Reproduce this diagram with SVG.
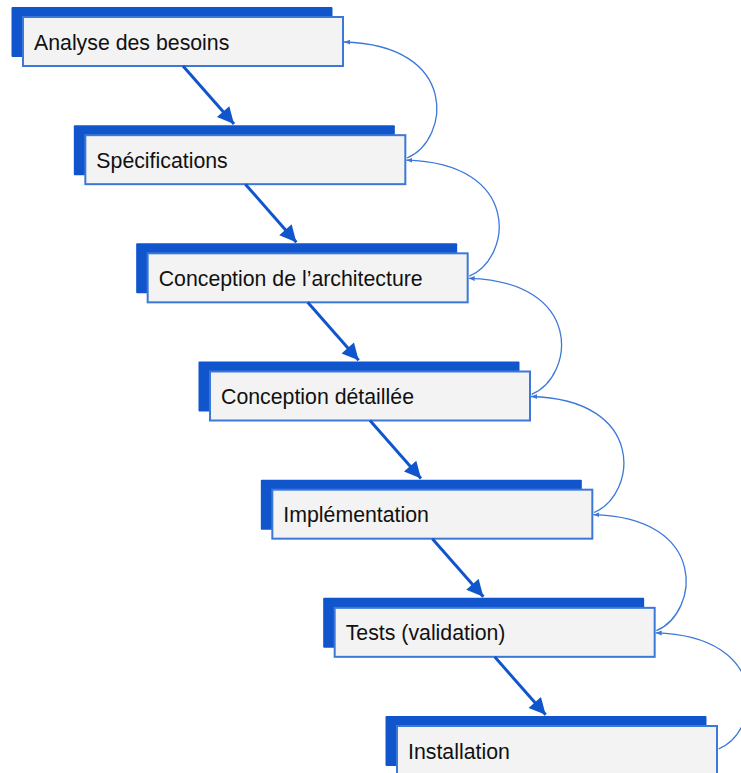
<svg xmlns="http://www.w3.org/2000/svg" width="741" height="773" viewBox="0 0 741 773">
<style>
.back{fill:#1155cc;}
.front{fill:#f3f3f3;stroke:#3c78d8;stroke-width:2;}
.lbl{font-family:"Liberation Sans",Arial,sans-serif;font-size:21.3px;fill:#111;}
.flow{stroke:#1155cc;stroke-width:3;fill:none;}
.fb{stroke:#3c78d8;stroke-width:1.3;fill:none;}
</style>
<defs>
<marker id="big" viewBox="0 0 10 10" refX="10" refY="5" markerWidth="6" markerHeight="5.5" orient="auto" markerUnits="strokeWidth">
<path d="M0,0 L10,5 L0,10 Z" fill="#1155cc"/>
</marker>
<marker id="small" viewBox="0 0 10 10" refX="10" refY="5" markerWidth="6" markerHeight="6" orient="auto" markerUnits="userSpaceOnUse">
<path d="M0,1 L10,5 L0,9 Z" fill="#3c78d8"/>
</marker>
</defs>
<g id="n1" transform="translate(0,0)">
<rect class="back" x="11.5" y="7" width="321" height="50" rx="1"/>
<rect class="front" x="23" y="17" width="320" height="49"/>
<text class="lbl" x="34" y="49.5">Analyse des besoins</text>
</g>
<g id="n2" transform="translate(62.33,118.17)">
<rect class="back" x="11.5" y="7" width="321" height="50" rx="1"/>
<rect class="front" x="23" y="17" width="320" height="49"/>
<text class="lbl" x="34" y="49.5">Spécifications</text>
</g>
<g id="n3" transform="translate(124.67,236.33)">
<rect class="back" x="11.5" y="7" width="321" height="50" rx="1"/>
<rect class="front" x="23" y="17" width="320" height="49"/>
<text class="lbl" x="34" y="49.5">Conception de l’architecture</text>
</g>
<g id="n4" transform="translate(187,354.5)">
<rect class="back" x="11.5" y="7" width="321" height="50" rx="1"/>
<rect class="front" x="23" y="17" width="320" height="49"/>
<text class="lbl" x="34" y="49.5">Conception détaillée</text>
</g>
<g id="n5" transform="translate(249.33,472.67)">
<rect class="back" x="11.5" y="7" width="321" height="50" rx="1"/>
<rect class="front" x="23" y="17" width="320" height="49"/>
<text class="lbl" x="34" y="49.5">Implémentation</text>
</g>
<g id="n6" transform="translate(311.67,590.83)">
<rect class="back" x="11.5" y="7" width="321" height="50" rx="1"/>
<rect class="front" x="23" y="17" width="320" height="49"/>
<text class="lbl" x="34" y="49.5">Tests (validation)</text>
</g>
<g id="n7" transform="translate(374,709)">
<rect class="back" x="11.5" y="7" width="321" height="50" rx="1"/>
<rect class="front" x="23" y="17" width="320" height="49"/>
<text class="lbl" x="34" y="49.5">Installation</text>
</g>
<g id="connectors">
<g id="flow">
<path class="flow" d="M183,66 L234,124" marker-end="url(#big)"/>
<path class="flow" d="M183,66 L234,124" marker-end="url(#big)" transform="translate(62.33,118.17)"/>
<path class="flow" d="M183,66 L234,124" marker-end="url(#big)" transform="translate(124.67,236.33)"/>
<path class="flow" d="M183,66 L234,124" marker-end="url(#big)" transform="translate(187,354.5)"/>
<path class="flow" d="M183,66 L234,124" marker-end="url(#big)" transform="translate(249.33,472.67)"/>
<path class="flow" d="M183,66 L234,124" marker-end="url(#big)" transform="translate(311.67,590.83)"/>
</g>
<g id="feedback">
<path class="fb" d="M407,158 C450,140 460,45 344,42" marker-end="url(#small)"/>
<path class="fb" d="M407,158 C450,140 460,45 344,42" marker-end="url(#small)" transform="translate(62.33,118.17)"/>
<path class="fb" d="M407,158 C450,140 460,45 344,42" marker-end="url(#small)" transform="translate(124.67,236.33)"/>
<path class="fb" d="M407,158 C450,140 460,45 344,42" marker-end="url(#small)" transform="translate(187,354.5)"/>
<path class="fb" d="M407,158 C450,140 460,45 344,42" marker-end="url(#small)" transform="translate(249.33,472.67)"/>
<path class="fb" d="M407,158 C450,140 460,45 344,42" marker-end="url(#small)" transform="translate(311.67,590.83)"/>
</g>
</g>
</svg>
